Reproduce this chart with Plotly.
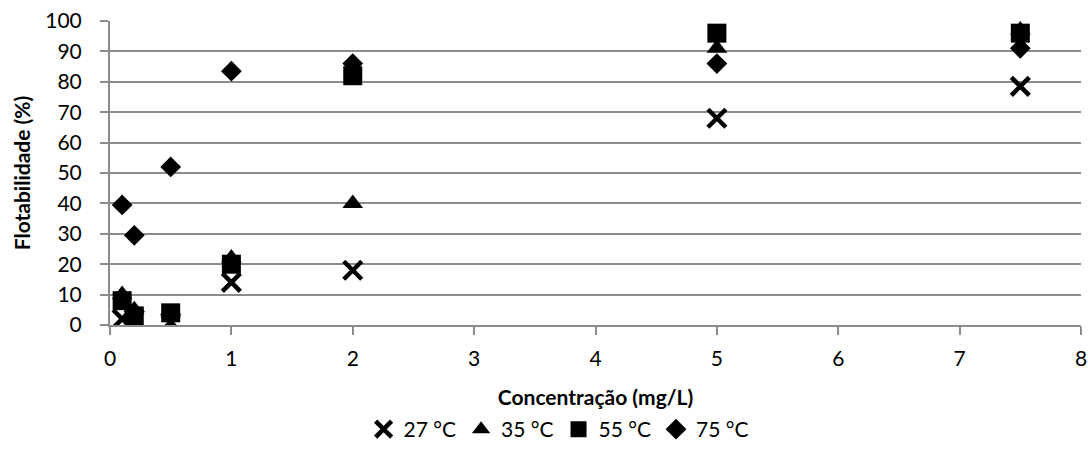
import plotly.graph_objects as go

conc = [0.1, 0.2, 0.5, 1, 2, 5, 7.5]
t27 = [2, 2, 1, 14, 18, 68, 78.5]
t35 = [10, 5, 4, 22, 40, 91, 97]
t55 = [8, 3, 4, 20, 82, 96, 96]
t75 = [39.5, 29.5, 52, 83.5, 86, 86, 91]

series = [
    ("27 °C", t27, "x-thin", 18),
    ("35 °C", t35, "triangle-up", 18),
    ("55 °C", t55, "square", 19),
    ("75 °C", t75, "diamond", 16),
]

fig = go.Figure()
for name, vals, sym, size in series:
    marker = dict(symbol=sym, size=size, color="black")
    if sym == "x-thin":
        marker["line"] = dict(width=4.5, color="black")
    else:
        marker["line"] = dict(width=0)
    fig.add_trace(go.Scatter(x=conc, y=vals, mode="markers", name=name, marker=marker))

font = "Lato, 'Open Sans', sans-serif"
grid = "#8c8c8c"
fig.update_layout(
    width=1088, height=450,
    margin=dict(l=110, r=7, t=21, b=125, autoexpand=False),
    paper_bgcolor="white", plot_bgcolor="white",
    font=dict(family=font, size=21, color="black"),
    legend=dict(orientation="h", x=0.462, xanchor="center", yref="container",
                y=-0.012, yanchor="bottom", font=dict(size=21),
                itemwidth=30, tracegroupgap=0),
    showlegend=True,
)
fig.update_xaxes(
    range=[0, 8], dtick=1, tick0=0, showgrid=False, zeroline=False,
    showline=True, linecolor=grid, linewidth=2,
    ticks="outside", ticklen=8, tickcolor=grid, tickwidth=2,
    tickfont=dict(size=21), ticklabelstandoff=6,
    title=dict(text="<b>Concentração (mg/L)</b>", font=dict(size=21), standoff=27),
    minor=dict(dtick=8, tick0=0, showgrid=True, gridcolor=grid, gridwidth=2, ticks=""),
)
fig.update_yaxes(
    range=[0, 100], dtick=10, showgrid=True, gridcolor=grid, gridwidth=2, zeroline=False,
    showline=True, linecolor=grid, linewidth=2,
    ticks="outside", ticklen=8, tickcolor=grid, tickwidth=2,
    tickfont=dict(size=21), ticklabelstandoff=14,
    title=dict(text="<b>Flotabilidade (%)</b>", font=dict(size=21), standoff=9),
)
fig.write_html("out.html")
